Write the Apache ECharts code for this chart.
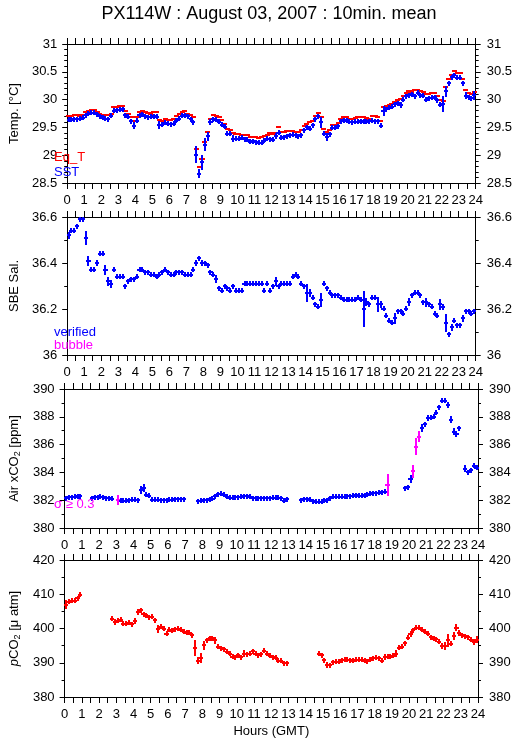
<!DOCTYPE html>
<html>
<head>
<meta charset="utf-8">
<title>PX114W : August 03, 2007 : 10min. mean</title>
<script src="https://cdn.jsdelivr.net/npm/echarts@6/dist/echarts.min.js"></script>
<style>
  html, body { margin: 0; padding: 0; background: #fff; }
  #chart { width: 515px; height: 739px; }
</style>
</head>
<body>
<div id="chart"></div>
<script>
// 10-min means, 6 bins per hour (one line = one hour), null = no data

// equilibrator temperature [°C]
const eqT = [
  29.70, 29.71, 29.72, 29.72, 29.71, 29.72,
  29.78, 29.80, 29.81, 29.81, 29.78, 29.74,
  29.73, 29.73, 29.73, 29.75, 29.86, 29.87,
  29.88, 29.89, 29.80, 29.75, 29.68, 29.62,
  29.68, 29.78, 29.80, 29.78, 29.76, 29.75,
  29.78, 29.77, 29.63, 29.61, 29.65, 29.63,
  29.63, 29.65, 29.70, 29.74, 29.78, 29.79,
  29.75, 29.72, 29.68, 29.12, 28.78, 28.93,
  29.24, 29.41, 29.66, 29.73, 29.71, 29.68,
  29.63, 29.57, 29.48, 29.45, 29.40, 29.38,
  29.38, 29.37, 29.37, 29.36, 29.33, 29.33,
  29.32, 29.31, 29.32, 29.34, 29.37, 29.40,
  29.38, 29.40, 29.50, 29.41, 29.42, 29.43,
  29.44, 29.43, 29.41, 29.42, 29.46, 29.52,
  29.56, 29.59, 29.62, 29.71, 29.76, 29.69,
  29.47, 29.42, 29.45, 29.55, 29.55, 29.58,
  29.65, 29.69, 29.69, 29.66, 29.66, 29.67,
  29.68, 29.68, 29.68, 29.67, 29.66, 29.70,
  29.70, 29.69, 29.61, 29.86, 29.89, 29.91,
  29.92, 29.95, 29.99, 30.01, 30.07, 30.12,
  30.16, 30.13, 30.18, 30.18, 30.16, 30.14,
  30.10, 30.10, 30.11, 30.11, 30.07, 29.99,
  29.98, 30.22, 30.37, 30.44, 30.52, 30.48,
  30.47, 30.37, 30.17, 30.11, 30.10, 30.14,
];

// sea surface temperature [°C] and its standard deviation
const sst = [
  29.64, 29.64, 29.65, 29.65, 29.66, 29.67,
  29.72, 29.75, 29.76, 29.76, 29.74, 29.70,
  29.67, 29.66, 29.65, 29.71, 29.80, 29.81,
  29.82, 29.83, 29.72, 29.69, 29.61, 29.53,
  29.62, 29.72, 29.74, 29.70, 29.68, 29.69,
  29.70, 29.69, 29.54, 29.55, 29.58, 29.57,
  29.56, 29.57, 29.62, 29.66, 29.71, 29.72,
  29.70, 29.65, 29.59, 29.01, 28.67, 28.87,
  29.19, 29.34, 29.60, 29.65, 29.64, 29.60,
  29.55, 29.51, 29.39, 29.39, 29.30, 29.30,
  29.30, 29.31, 29.29, 29.28, 29.24, 29.25,
  29.23, 29.22, 29.22, 29.26, 29.30, 29.29,
  29.28, 29.35, 29.40, 29.31, 29.32, 29.34,
  29.36, 29.37, 29.36, 29.34, 29.36, 29.45,
  29.50, 29.48, 29.54, 29.65, 29.70, 29.59,
  29.39, 29.33, 29.38, 29.49, 29.49, 29.52,
  29.61, 29.63, 29.62, 29.60, 29.59, 29.60,
  29.60, 29.61, 29.60, 29.60, 29.61, 29.62,
  29.61, 29.61, 29.53, 29.79, 29.83, 29.85,
  29.87, 29.92, 29.93, 29.90, 30.00, 30.06,
  30.08, 30.10, 30.06, 30.12, 30.08, 30.07,
  30.00, 30.02, 30.03, 30.04, 29.99, 29.91,
  29.92, 30.15, 30.29, 30.40, 30.44, 30.39,
  30.39, 30.29, 30.07, 30.04, 30.02, 30.08,
];
const sstSd = [
  0, 0, 0, 0, 0, 0,
  0, 0, 0, 0, 0, 0,
  0, 0, 0, 0, 0, 0,
  0, 0, 0, 0, 0, 0.06,
  0, 0, 0, 0, 0, 0,
  0, 0, 0.07, 0, 0, 0,
  0, 0, 0, 0, 0, 0,
  0, 0, 0, 0.15, 0.075, 0.13,
  0.12, 0.085, 0.06, 0, 0, 0,
  0, 0, 0.05, 0, 0.06, 0,
  0, 0, 0, 0, 0, 0,
  0, 0, 0, 0, 0, 0,
  0, 0.05, 0, 0, 0, 0,
  0, 0, 0, 0, 0, 0,
  0, 0, 0, 0, 0, 0.1,
  0, 0.075, 0, 0, 0, 0,
  0, 0, 0, 0, 0, 0,
  0, 0, 0, 0, 0, 0,
  0, 0, 0, 0.09, 0, 0,
  0, 0, 0, 0.05, 0, 0,
  0, 0, 0, 0, 0, 0,
  0, 0, 0, 0, 0, 0,
  0.145, 0.1, 0, 0, 0, 0,
  0, 0, 0.06, 0, 0, 0.08,
];

// SBE salinity and its standard deviation
const sal = [
  36.52, 36.54, 36.54, 36.56, 36.59, 36.59,
  36.51, 36.41, 36.37, 36.37, 36.40, 36.44,
  36.44, 36.37, 36.32, 36.31, 36.37, 36.34,
  36.34, 36.34, 36.30, 36.32, 36.33, 36.33,
  36.34, 36.37, 36.37, 36.36, 36.36, 36.35,
  36.35, 36.34, 36.35, 36.36, 36.37, 36.36,
  36.35, 36.35, 36.36, 36.36, 36.36, 36.35,
  36.35, 36.35, 36.37, 36.40, 36.42, 36.40,
  36.40, 36.39, 36.36, 36.35, 36.33, 36.29,
  36.28, 36.30, 36.29, 36.28, 36.30, 36.28,
  36.28, 36.28, 36.31, 36.31, 36.31, 36.31,
  36.31, 36.31, 36.31, 36.28, 36.31, 36.28,
  36.30, 36.32, 36.30, 36.31, 36.31, 36.31,
  36.31, 36.34, 36.35, 36.34, 36.31, 36.30,
  36.27, 36.27, 36.25, 36.22, 36.21, 36.24,
  36.31, 36.29, 36.27, 36.26, 36.26, 36.26,
  36.25, 36.24, 36.24, 36.24, 36.24, 36.24,
  36.25, 36.24, 36.20, 36.23, 36.22, 36.25,
  36.25, 36.22, 36.22, 36.20, 36.17, 36.15,
  36.14, 36.16, 36.19, 36.19, 36.18, 36.20,
  36.23, 36.26, 36.27, 36.27, 36.26, 36.23,
  36.23, 36.22, 36.21, 36.18, 36.17, 36.22,
  36.21, 36.14, 36.09, 36.12, 36.15, 36.13,
  36.13, 36.16, 36.19, 36.19, 36.18, 36.19,
];
const salSd = [
  0.015, 0, 0, 0, 0, 0,
  0.03, 0.022, 0, 0, 0.015, 0,
  0, 0.022, 0.018, 0.018, 0, 0,
  0, 0, 0, 0, 0, 0,
  0, 0, 0, 0, 0, 0,
  0, 0, 0, 0, 0, 0,
  0, 0, 0, 0, 0, 0,
  0, 0, 0, 0.015, 0, 0.015,
  0, 0, 0, 0, 0.017, 0,
  0, 0, 0, 0, 0, 0,
  0, 0, 0, 0, 0, 0,
  0, 0, 0, 0, 0, 0,
  0, 0.018, 0, 0, 0, 0,
  0, 0, 0, 0, 0, 0,
  0.038, 0.016, 0, 0, 0, 0.03,
  0, 0, 0, 0, 0, 0,
  0, 0, 0, 0, 0, 0,
  0, 0, 0.077, 0.016, 0, 0,
  0, 0.033, 0.015, 0, 0, 0,
  0, 0.024, 0, 0, 0, 0,
  0.017, 0, 0, 0, 0, 0,
  0.02, 0, 0, 0, 0, 0.025,
  0.013, 0.04, 0.012, 0.015, 0, 0,
  0, 0.015, 0, 0, 0, 0,
];

// atmospheric xCO2 [ppm] and its standard deviation
const airCo2 = [
  382.15, 382.20, 382.20, 382.25, 382.27, 382.27,
  null, null, null, 382.15, 382.20, 382.22,
  382.25, 382.20, 382.15, 382.15, 382.10, null,
  382.03, 381.96, 381.96, 381.96, 382.00, 382.03,
  382.03, 382.00, 382.75, 382.87, 382.40, 382.32,
  382.03, 382.03, 382.03, 382.00, 382.00, 382.00,
  382.03, 382.03, 382.06, 382.06, 382.06, 382.06,
  null, null, null, null, 381.94, 381.96,
  381.98, 381.98, 382.06, 382.10, 382.27, 382.44,
  382.46, 382.39, 382.25, 382.18, 382.18, 382.20,
  382.22, 382.25, 382.27, 382.30, 382.25, 382.15,
  382.15, 382.15, 382.15, 382.15, 382.15, 382.15,
  382.18, 382.18, 382.18, 382.15, 381.96, 382.08,
  null, null, null, null, 381.98, 382.06,
  382.08, 382.03, 381.91, 381.89, 381.89, 381.89,
  381.96, 382.00, 382.15, 382.25, 382.25, 382.25,
  382.25, 382.25, 382.27, 382.27, 382.32, 382.34,
  382.32, 382.32, 382.34, 382.39, 382.46, 382.49,
  382.51, 382.54, 382.56, 382.60, 383.10, null,
  null, null, null, null, 382.87, 382.94,
  383.50, 384.07, 385.86, 386.58, 387.18, 387.46,
  387.90, 387.94, 388.00, 388.30, 388.68, 389.14,
  389.16, 388.85, 387.78, 386.94, 386.75, 387.18,
  null, 384.26, 384.00, 384.14, 384.47, 384.35,
];
const airSd = [
  0, 0, 0, 0, 0, 0,
  0, 0, 0, 0, 0, 0,
  0, 0, 0, 0, 0, 0,
  0.35, 0, 0, 0, 0, 0,
  0, 0, 0.28, 0.26, 0, 0,
  0, 0, 0, 0, 0, 0,
  0, 0, 0, 0, 0, 0,
  0, 0, 0, 0, 0, 0,
  0, 0, 0, 0, 0, 0,
  0, 0, 0, 0, 0, 0,
  0, 0, 0, 0, 0, 0,
  0, 0, 0, 0, 0, 0,
  0, 0, 0, 0, 0.1, 0,
  0, 0, 0, 0, 0, 0,
  0, 0, 0, 0, 0, 0,
  0, 0, 0, 0, 0, 0,
  0, 0, 0, 0, 0, 0,
  0, 0, 0, 0, 0, 0,
  0, 0, 0, 0, 0.81, 0,
  0, 0, 0, 0, 0.15, 0.15,
  0.29, 0.45, 0.63, 0.38, 0.28, 0.2,
  0.2, 0.15, 0, 0, 0, 0,
  0, 0.22, 0.25, 0.28, 0.2, 0,
  0, 0.25, 0.18, 0, 0, 0,
];

// seawater pCO2 [µatm] and its standard deviation
const pco2 = [
  407.0, 407.8, 408.1, 408.1, 408.9, 409.8,
  null, null, null, null, null, null,
  null, null, null, null, 402.8, 401.9,
  402.2, 402.6, 401.4, 401.4, 401.7, 401.2,
  402.2, 404.8, 405.3, 404.1, 403.8, 403.3,
  403.4, 402.4, 399.9, 400.5, 399.9, 398.5,
  399.6, 399.3, 399.8, 399.9, 399.6, 399.0,
  398.8, 398.8, 398.1, 394.3, 390.6, 391.4,
  395.1, 396.6, 397.2, 397.1, 396.6, 394.7,
  394.3, 394.0, 393.2, 392.7, 391.8, 391.6,
  392.2, 391.6, 392.7, 392.5, 392.7, 393.4,
  392.7, 392.2, 392.5, 393.5, 392.7, 392.0,
  391.6, 391.4, 390.6, 390.6, 389.8, 389.8,
  null, null, null, null, null, null,
  null, null, null, null, 392.7, 392.2,
  390.8, 389.4, 389.3, 390.1, 390.3, 390.3,
  390.8, 390.9, 390.9, 390.8, 390.6, 390.9,
  390.9, 390.9, 390.6, 390.4, 390.9, 391.3,
  391.4, 391.3, 390.6, 391.7, 391.8, 391.7,
  392.0, 392.7, 394.4, 394.7, 395.7, 397.3,
  398.5, 399.5, 400.2, 400.2, 399.6, 399.0,
  398.5, 397.5, 397.0, 396.9, 396.2, 394.9,
  395.0, 396.5, 395.6, 397.8, 400.2, 398.6,
  398.0, 397.8, 397.5, 396.7, 396.1, 396.7,
];
const pco2Sd = [
  1.2, 0, 0, 0.8, 0, 0,
  0, 0, 0, 0, 0, 0,
  0, 0, 0, 0, 0, 0.9,
  0, 0, 0, 0, 0, 0,
  0.95, 0.95, 0, 0, 0, 0,
  0, 0, 1.2, 0, 0, 0.7,
  0, 0, 0, 0, 0, 0,
  0, 0, 0, 2.2, 1.0, 1.45,
  1.3, 0, 0, 0, 1.0, 0,
  0, 0, 0, 0, 0.8, 0,
  0, 0.8, 0.9, 0, 0, 0,
  0, 0, 0, 0, 0, 0,
  0, 0, 0, 0, 0, 0,
  0, 0, 0, 0, 0, 0,
  0, 0, 0, 0, 0, 0,
  0, 0.8, 0, 0, 0, 0,
  0, 0, 0, 0, 0, 0,
  0, 0, 0, 0, 0, 0,
  0, 0, 0, 0.8, 0, 0,
  0, 0.9, 0.8, 0, 0, 0,
  0.9, 0, 0, 0, 0, 0,
  0, 0, 0, 0, 0, 0.9,
  1.2, 1.9, 0.8, 1.3, 1.0, 0.9,
  0, 0, 0, 0, 0.9, 1.0,
];

const yTicks = [
  { min: 28.5, max: 31, interval: 0.5, minor: 5 },
  { min: 36, max: 36.6, interval: 0.2, minor: 2 },
  { min: 380, max: 390, interval: 2, minor: 2 },
  { min: 380, max: 420, interval: 10, minor: 2 },
];

const FONT = "'Liberation Sans', Arial, Helvetica, sans-serif";
const RED = '#ff0000', BLUE = '#0000ff', MAGENTA = '#ff00ff';

// bin centre of each 10-min mean, in hours
const binHour = i => (i + 0.5) / 6;

function toData(values, sds) {
  const out = [];
  values.forEach((v, i) => {
    if (v != null) out.push([binHour(i), v, sds ? sds[i] : 0]);
  });
  return out;
}

// "+" mark: horizontal dash over the bin, vertical bar for ±sd (min 2.5px)
function crossRender(halfW, colorOf, vertical) {
  return function (params, api) {
    const h = api.value(0), v = api.value(1), sd = api.value(2);
    const style = { stroke: colorOf(sd), lineWidth: 2 };
    const a = api.coord([h - halfW, v]);
    const b = api.coord([h + halfW, v]);
    const yc = Math.round(a[1]);
    const children = [{
      type: 'line',
      shape: { x1: Math.round(a[0]), y1: yc, x2: Math.round(b[0]), y2: yc },
      style,
    }];
    if (vertical) {
      const c = api.coord([h, v]);
      const t = api.coord([h, v + sd]), u = api.coord([h, v - sd]);
      const xc = Math.round(c[0]);
      const y1 = Math.round(Math.min(t[1], c[1] - 2.5));
      const y2 = Math.round(Math.max(u[1], c[1] + 2.5));
      children.push({ type: 'line', shape: { x1: xc, y1, x2: xc, y2 }, style });
    }
    return { type: 'group', children };
  };
}

const panelTops = [44, 217, 389, 560];
const panelHeights = [139, 138, 139, 138];
const grid = panelTops.map((top, i) => ({ left: 51, right: 37, top, height: panelHeights[i] }));

const black = { color: '#000', width: 1 };
const xAxis = [];
const yAxis = [];
grid.forEach((g, i) => {
  ['bottom', 'top'].forEach(pos => {
    xAxis.push({
      type: 'value', gridIndex: i, position: pos, min: 0, max: 24, interval: 1,
      axisLine: { show: true, onZero: false, lineStyle: black },
      axisTick: { show: true, length: 6, lineStyle: black },
      minorTick: { show: true, splitNumber: 2, length: 6, lineStyle: black },
      axisLabel: { show: pos === 'bottom', color: '#000', fontSize: 13, fontFamily: FONT, margin: 11 },
      splitLine: { show: false },
      name: (i === 3 && pos === 'bottom') ? 'Hours (GMT)' : '',
      nameLocation: 'middle', nameGap: 28,
      nameTextStyle: { color: '#000', fontSize: 13, fontFamily: FONT },
    });
  });
  ['left', 'right'].forEach(pos => {
    const t = yTicks[i];
    yAxis.push({
      type: 'value', gridIndex: i, position: pos,
      min: t.min, max: t.max, interval: t.interval,
      axisLine: { show: true, onZero: false, lineStyle: black },
      axisTick: { show: true, length: 5, lineStyle: black },
      minorTick: { show: true, splitNumber: t.minor, length: 3, lineStyle: black },
      axisLabel: { color: '#000', fontSize: 13, fontFamily: FONT, margin: pos === 'left' ? 10 : 11 },
      splitLine: { show: false },
    });
  });
});

const rich = {
  t: { fontSize: 13, fontFamily: FONT, color: '#000' },
  i: { fontSize: 13, fontFamily: FONT, color: '#000', fontStyle: 'italic' },
  s: { fontSize: 9, fontFamily: FONT, color: '#000', padding: [6, 0, 0, 0] },
};
const yNames = [
  'Temp. [°C]',
  'SBE Sal.',
  '{t|Air xCO}{s|2}{t| [ppm]}',
  '{i|p}{t|CO}{s|2}{t| [μ atm]}',
];
const yNameGaps = [42, 42, 38, 37];
yNames.forEach((name, i) => {
  Object.assign(yAxis[i * 2], {
    name, nameLocation: 'middle', nameGap: yNameGaps[i],
    nameTextStyle: { color: '#000', fontSize: 13, fontFamily: FONT, rich },
  });
});

const series = [
  {
    name: 'Eq_T', type: 'custom', xAxisIndex: 0, yAxisIndex: 0,
    renderItem: crossRender(0.15, () => RED, false),
    data: toData(eqT, null),
  },
  {
    name: 'SST', type: 'custom', xAxisIndex: 0, yAxisIndex: 0,
    renderItem: crossRender(0.12, () => BLUE, true),
    data: toData(sst, sstSd),
  },
  {
    name: 'SBE Sal.', type: 'custom', xAxisIndex: 2, yAxisIndex: 2,
    renderItem: crossRender(0.12, () => BLUE, true),
    data: toData(sal, salSd),
  },
  {
    name: 'Air xCO2', type: 'custom', xAxisIndex: 4, yAxisIndex: 4,
    renderItem: crossRender(0.12, sd => (sd >= 0.3 ? MAGENTA : BLUE), true),
    data: toData(airCo2, airSd),
  },
  {
    name: 'pCO2', type: 'custom', xAxisIndex: 6, yAxisIndex: 6,
    renderItem: crossRender(0.12, () => RED, true),
    data: toData(pco2, pco2Sd),
  },
];

const legendText = (text, fill, x, y) => ({
  type: 'text', x, y, silent: true, z: 10,
  style: { text, fill, font: `13px ${FONT}`, textAlign: 'left', textVerticalAlign: 'middle' },
});

const chart = echarts.init(document.getElementById('chart'), null, { renderer: 'canvas' });
chart.setOption({
  animation: false,
  backgroundColor: '#fff',
  title: {
    text: 'PX114W : August 03, 2007 : 10min. mean',
    left: 264, top: 0, textAlign: 'center',
    textStyle: { color: '#000', fontSize: 18, fontWeight: 'normal', fontFamily: FONT },
  },
  grid, xAxis, yAxis, series,
  graphic: [
    legendText('Eq_T', RED, 54, 157),
    legendText('SST', BLUE, 54, 172),
    legendText('verified', BLUE, 54, 332),
    legendText('bubble', MAGENTA, 54, 345),
    legendText('σ ≥ 0.3', MAGENTA, 54, 504),
  ],
});
</script>
</body>
</html>
